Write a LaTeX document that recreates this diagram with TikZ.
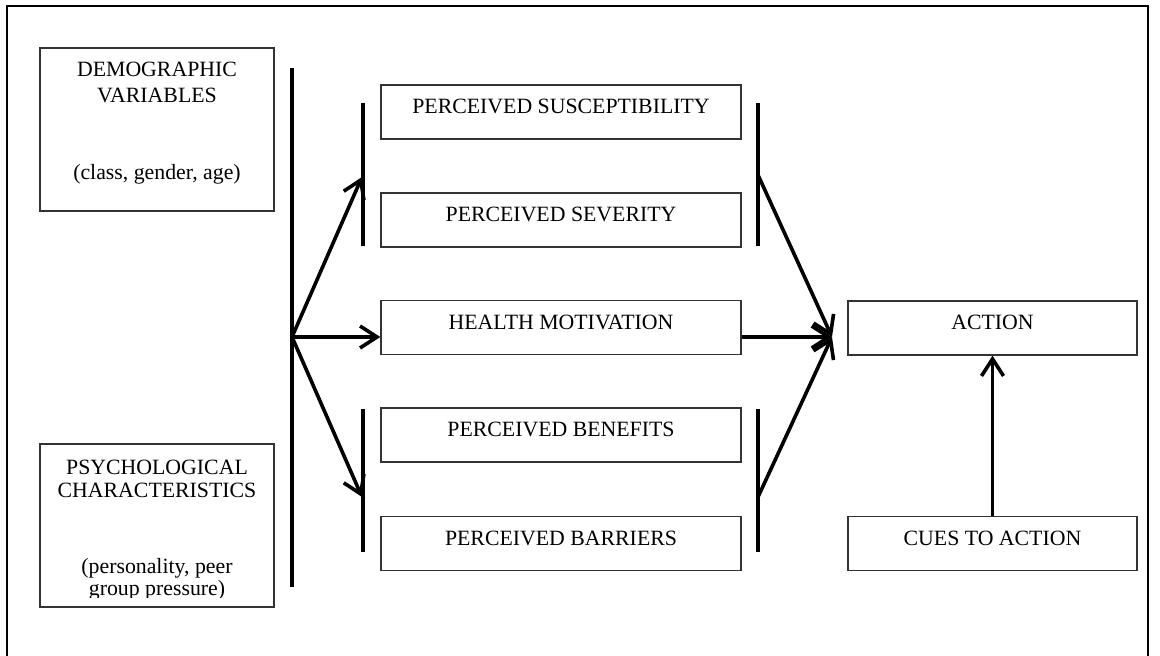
\documentclass[tikz,border=0pt]{standalone}
\usepackage{fontspec}
\setmainfont{Liberation Serif}
\usepackage{tikz}
\usetikzlibrary{arrows.meta}

\tikzset{
    box/.style = {rectangle, draw = black!80, line width = 0.65pt, inner sep = 0pt, text height = 8pt, text depth = 6pt},
    wide/.style = {box, minimum width = 180pt, minimum height = 27pt},
    tall/.style = {box, minimum width = 117pt, minimum height = 81.5pt},
    txt/.style = {anchor = base, inner sep = 0pt},
    vbar/.style = {line width = 1.8pt},
    arr/.style = {line width = 1.8pt, -{Straight Barb[length = 8.5pt, width = 11pt]}},
}

\begin{document}
\begin{tikzpicture}[x = 0.5pt, y = -0.5pt, font = \fontsize{10.9pt}{13pt}\selectfont]
        \useasboundingbox (0, 0) rectangle (1160, 656);
        % frame, open at the bottom
        \draw [line width = 1pt] (7, 656) -- (7, 6) -- (1148, 6) -- (1148, 656);

        % modifying factors
        \node (1) at (157, 129.5) [tall] {};
        \node (1a) at (157, 77) [txt] {DEMOGRAPHIC};
        \node (1b) at (157, 102.5) [txt] {VARIABLES};
        \node (1c) at (157, 180) [txt] {(class, gender, age)};
        \node (2) at (157, 525.5) [tall] {};
        \node (2a) at (157, 475) [txt] {PSYCHOLOGICAL};
        \node (2b) at (157, 497.5) [txt] {CHARACTERISTICS};
        \begin{scope}
            \clip (40, 444) rectangle (274, 597);
            \node (2c) at (157, 574) [txt] {(personality, peer};
            \node (2d) at (157, 595) [txt] {group pressure)};
        \end{scope}

        % individual beliefs
        \node (3) at (561, 112) [wide] {PERCEIVED SUSCEPTIBILITY};
        \node (4) at (561, 220) [wide] {PERCEIVED SEVERITY};
        \node (5) at (561, 327.5) [wide] {HEALTH MOTIVATION};
        \node (6) at (561, 435) [wide] {PERCEIVED BENEFITS};
        \node (7) at (561, 543.5) [wide] {PERCEIVED BARRIERS};

        \node (8) at (992.5, 328) [box, minimum width = 144.5pt, minimum height = 27pt] {ACTION};
        \node (9) at (992.5, 543.5) [box, minimum width = 144.5pt, minimum height = 27pt] {CUES TO ACTION};

        % brackets
        \draw [vbar] (292, 68) -- (292, 587);
        \draw [vbar] (363, 103) -- (363, 246);
        \draw [vbar] (363, 409) -- (363, 552);
        \draw [vbar] (758, 103) -- (758, 246);
        \draw [vbar] (758, 409) -- (758, 552);

        \coordinate (f) at (292, 337);
        \coordinate (u1) at (362, 177);
        \coordinate (d1) at (362, 497);
        \coordinate (u2) at (758, 175);
        \coordinate (d2) at (758, 497);
        \coordinate (j) at (832, 337);

        \draw [arr] (f) -- (u1);
        \draw [arr] (f) -- (f -| 5.west);
        \draw [arr] (f) -- (d1);
        \draw [arr] (u2) -- (j);
        \draw [arr] (5.east |- j) -- (j);
        \draw [arr] (d2) -- (j);
        \draw [arr] (9) -- (8);
    \end{tikzpicture}
\end{document}
